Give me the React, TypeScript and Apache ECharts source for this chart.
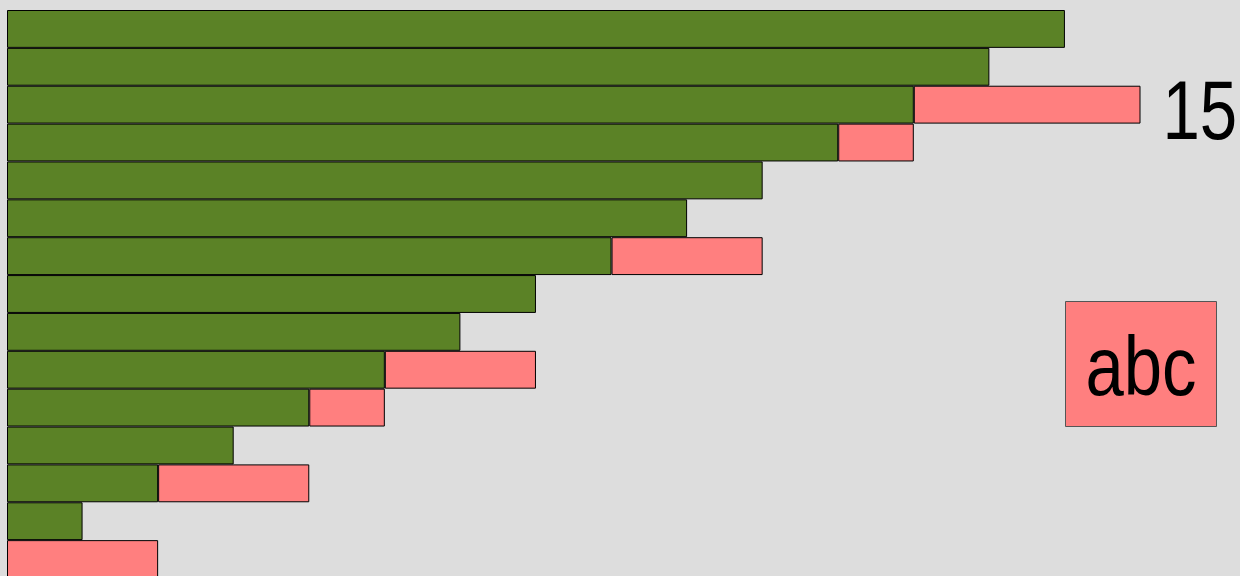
import React, { useEffect, useRef } from "react";
import * as echarts from "echarts";

const categories = ["r1", "r2", "r3", "r4", "r5", "r6", "r7", "r8", "r9", "r10", "r11", "r12", "r13", "r14", "r15"];
const greenValues: (number | null)[] = [14, 13, 12, 11, 10, 9, 8, 7, 6, 5, 4, 3, 2, 1, null];
const pinkValues: (number | null)[] = [null, null, 3, 1, null, null, 2, null, null, 2, 1, null, 2, null, 2];
const legendLabel = "abc";

export default function App() {
  const ref = useRef<HTMLDivElement>(null);
  useEffect(() => {
    document.body.style.margin = "0";
    if (!ref.current) return;
    const chart = echarts.init(ref.current, null, { renderer: "svg" });
    const totals = greenValues.map((g, i) => (g || 0) + (pinkValues[i] || 0));
    const maxTotal = Math.max(...totals);
    const maxIdx = totals.indexOf(maxTotal);
    chart.setOption({
      animation: false,
      backgroundColor: "#DDDDDD",
      grid: { left: 7, right: 99.5, top: 10, height: 568 },
      xAxis: { type: "value", min: 0, max: 15, show: false },
      yAxis: { type: "category", data: categories, inverse: true, show: false },
      series: [
        {
          type: "bar",
          stack: "s",
          data: greenValues,
          barWidth: "100%",
          barCategoryGap: 0,
          itemStyle: { color: "#5B8226", borderColor: "#000", borderWidth: 1 },
        },
        {
          type: "bar",
          stack: "s",
          data: pinkValues,
          barWidth: "100%",
          barCategoryGap: 0,
          itemStyle: { color: "#FF7F7F", borderColor: "#000", borderWidth: 1 },
        },
      ],
    });
    const pt = chart.convertToPixel({ gridIndex: 0 }, [maxTotal, categories[maxIdx]]) as number[];
    chart.setOption({
      graphic: [
        {
          type: "text",
          x: pt[0] + 22,
          y: pt[1] + 5,
          scaleX: 0.8,
          style: {
            text: String(maxTotal),
            font: "84px 'Liberation Sans', Arial, sans-serif",
            fill: "#000",
            verticalAlign: "middle",
            textAlign: "left",
          },
        },
        {
          type: "rect",
          shape: { x: 1065.5, y: 301.5, width: 151, height: 125 },
          style: { fill: "#FF7F7F", stroke: "#555", lineWidth: 1 },
        },
        {
          type: "text",
          x: 1141,
          y: 365,
          scaleX: 0.82,
          style: {
            text: legendLabel,
            font: "84px 'Liberation Sans', Arial, sans-serif",
            fill: "#000",
            verticalAlign: "middle",
            textAlign: "center",
          },
        },
      ],
    });
    return () => chart.dispose();
  }, []);
  return (
    <div style={{ width: 1240, height: 576, overflow: "hidden" }}>
      <div ref={ref} style={{ width: 1240, height: 582 }} />
    </div>
  );
}
